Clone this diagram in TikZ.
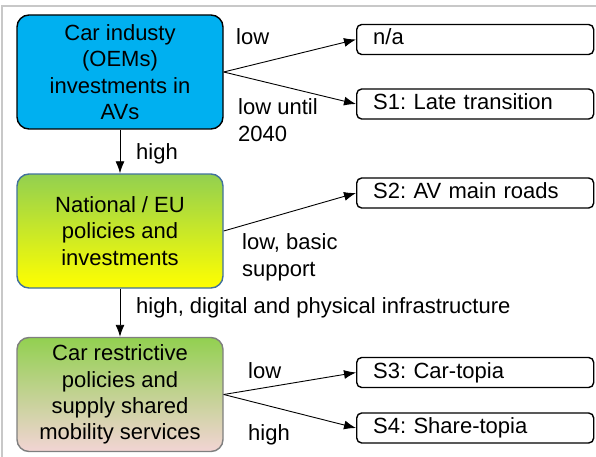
\documentclass[tikz,border=0pt]{standalone}
\usepackage{fontspec}
\setmainfont{Liberation Sans}
\frenchspacing
\usetikzlibrary{arrows.meta,positioning}
\definecolor{oemblue}{HTML}{00B0F0}
\definecolor{leafgreen}{HTML}{92D050}
\definecolor{sunyellow}{HTML}{FFFF00}
\definecolor{palepink}{HTML}{F2D4D4}
\definecolor{steelrim}{HTML}{41719C}
\definecolor{greyrim}{HTML}{7F7F7F}
\definecolor{framegrey}{HTML}{C8C8C8}
\tikzset{
    factor/.style={
        rectangle,
        rounded corners=12pt,
        draw=black,
        line width=1.4pt,
        minimum width=206pt,
        minimum height=114pt,
        inner sep=0pt,
        align=center,
        font=\fontsize{22}{26.3}\selectfont,
    },
    scenario/.style={
        rectangle,
        rounded corners=5pt,
        draw=black,
        line width=1.4pt,
        text width=204pt,
        inner xsep=16.5pt,
        inner ysep=0pt,
        minimum height=30pt,
        text height=16pt,
        text depth=5pt,
        align=left,
        font=\fontsize{22}{26.3}\selectfont,
    },
    choice/.style={
        anchor=base west,
        inner sep=0pt,
        align=left,
        font=\fontsize{22}{27}\selectfont,
    },
    every edge/.style={
        draw,
        -{Latex[length=12pt,width=9pt]},
        line width=0.9pt,
    },
}
\begin{document}
\begin{tikzpicture}[x=1pt,y=-1pt]
    \useasboundingbox (0,0) rectangle (596,457);
    \draw[framegrey, line width=1.5pt] (2,457) -- (2,6) -- (596,6);
    % driving factors
    \node[factor, fill=oemblue] (oem) at (120,72) {Car industy\\(OEMs)\\investments in\\AVs};
    \node[factor, draw=steelrim, top color=leafgreen, bottom color=sunyellow] (policy) at (120,231) {National / EU\\policies and\\investments};
    \node[factor, draw=greyrim, top color=leafgreen, bottom color=palepink] (restrict) at (120,394.5) {Car restrictive\\policies and\\supply shared\\mobility services};
    % scenarios
    \node[scenario, anchor=west] (na) at (356,39.5) {n/a};
    \node[scenario, anchor=west] (late) at (356,104) {S1: Late transition};
    \node[scenario, anchor=west] (mainroads) at (356,193) {S2: AV main roads};
    \node[scenario, anchor=west] (cartopia) at (356,372.5) {S3: Car-topia};
    \node[scenario, anchor=west] (sharetopia) at (356,428) {S4: Share-topia};
    % connectors
    \draw (oem.east) edge (na.west);
    \draw (oem.east) edge (late.west);
    \draw (oem) edge (policy);
    \draw (policy.east) edge (mainroads.west);
    \draw (policy) edge (restrict);
    \draw (restrict.east) edge (cartopia.west);
    \draw (restrict.east) edge (sharetopia.west);
    % labels (base of last line)
    \node[choice] (lowna) at (236,45) {low};
    \node[choice] (lowuntil) at (238,142) {low until\\2040};
    \node[choice] (highpol) at (136,160) {high};
    \node[choice] (lowbasic) at (242,276) {low, basic\\support};
    \node[choice] (highinfra) at (136,313) {high, digital and physical infrastructure};
    \node[choice] (lowcar) at (248,378) {low};
    \node[choice] (highshare) at (248,440) {high};
\end{tikzpicture}
\end{document}
